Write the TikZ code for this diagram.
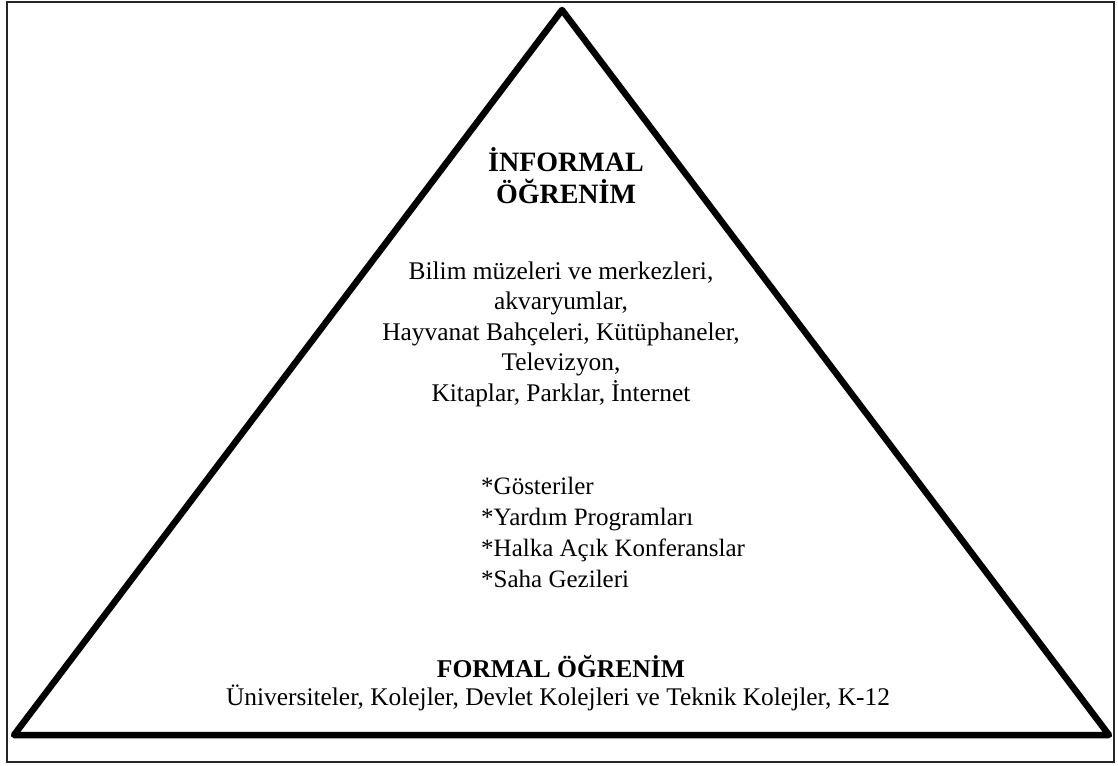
\documentclass[tikz,border=0pt]{standalone}
\usepackage{fontspec}
\setmainfont{Liberation Serif}
\begin{document}
\begin{tikzpicture}[x=1pt,y=-1pt,
  frame/.style={draw=black!85,line width=2pt},
  pyramid/.style={draw=black,line width=6.5pt,line join=round},
  heading/.style={font=\fontsize{28}{32}\selectfont\bfseries,align=center,inner sep=0pt},
  subheading/.style={font=\fontsize{25.6}{30}\selectfont\bfseries,align=center,inner sep=0pt},
  body/.style={font=\fontsize{25.4}{30.5}\selectfont,align=center,inner sep=0pt},
  listing/.style={font=\fontsize{25}{31}\selectfont,align=left,inner sep=0pt}]
\useasboundingbox (0,0) rectangle (1118,765);
% outer frame
\draw[frame] (7,2) rectangle (1114,762);
% pyramid
\coordinate (apex) at (562,10);
\coordinate (bl) at (14,735);
\coordinate (br) at (1109,735);
\draw[pyramid] (apex) -- (br) -- (bl) -- cycle;
% informal learning
\node[heading] (inf) at (566,176) {İNFORMAL\\ÖĞRENİM};
\node[body] (places) at (561,334) {Bilim müzeleri ve merkezleri,\\akvaryumlar,\\Hayvanat Bahçeleri, Kütüphaneler,\\Televizyon,\\Kitaplar, Parklar, İnternet};
\node[listing,anchor=west] (acts) at (481,532) {*Gösteriler\\*Yardım Programları\\*Halka Açık Konferanslar\\*Saha Gezileri};
% formal learning
\node[subheading] (formal) at (561,667) {FORMAL ÖĞRENİM};
\node[body] (schools) at (558,698) {Üniversiteler, Kolejler, Devlet Kolejleri ve Teknik Kolejler, K-12};
\end{tikzpicture}
\end{document}
